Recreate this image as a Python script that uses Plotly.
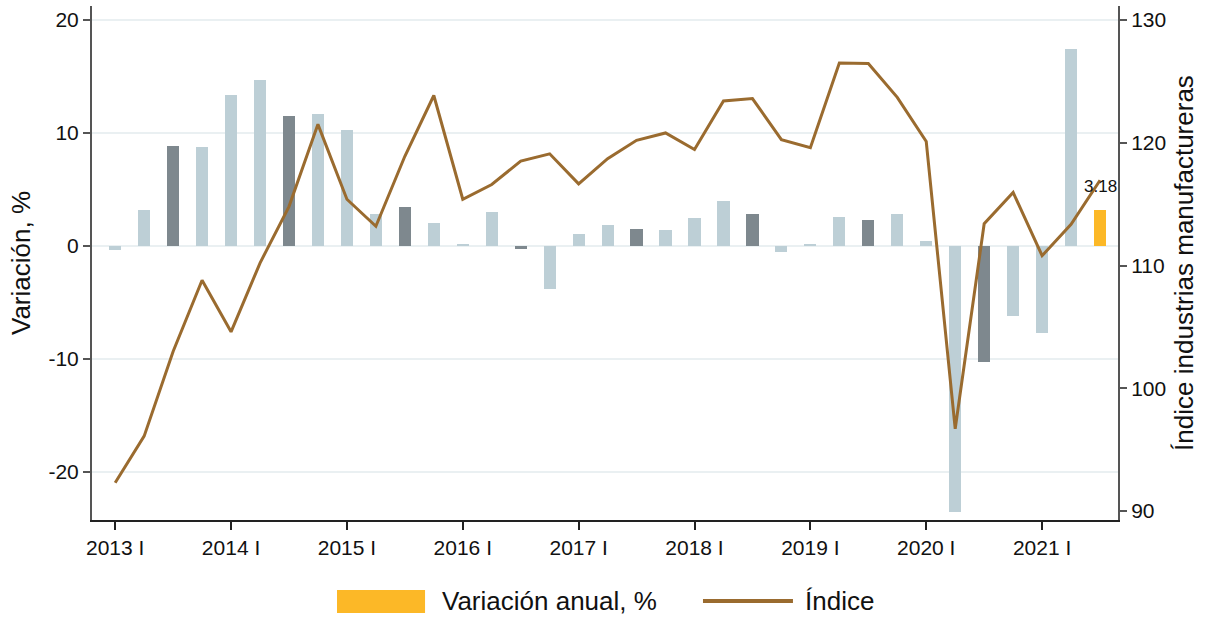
import plotly.graph_objects as go

years = list(range(2013, 2022))
roman = ["I", "II", "III", "IV"]
quarters = [f"{y} {r}" for y in years for r in roman][:35]

variacion = [-0.4, 3.2, 8.85, 8.76, 13.36, 14.66, 11.5, 11.68, 10.27, 2.83,
             3.45, 2.04, 0.1, 3.0, -0.33, -3.8, 1.06, 1.86, 1.5, 1.42,
             2.48, 3.98, 2.83, -0.53, 0.08, 2.57, 2.3, 2.83, 0.44, -23.5,
             -10.3, -6.2, -7.7, 17.43, 3.18]

indice = [92.3, 96.1, 103.0, 108.8, 104.6, 110.2, 114.8, 121.5, 115.4, 113.2,
          118.9, 123.85, 115.4, 116.6, 118.5, 119.1, 116.65, 118.7, 120.2, 120.8,
          119.45, 123.4, 123.6, 120.25, 119.6, 126.5, 126.45, 123.7, 120.1, 96.7,
          113.4, 115.95, 110.8, 113.35, 116.95]

year_ticks = [f"{y} I" for y in years]
left_ticks = [20, 10, 0, -10, -20]
right_ticks = [130, 120, 110, 100, 90]

LIGHT = "#BDCFD6"
DARK = "#7E888E"
YELLOW = "#FCB827"
LINE = "#9A6B2F"
GRID = "#EAF0F2"

bar_colors = []
for i, q in enumerate(quarters):
    if i == len(quarters) - 1:
        bar_colors.append(YELLOW)
    elif q.endswith(" III"):
        bar_colors.append(DARK)
    else:
        bar_colors.append(LIGHT)

FONT = "Liberation Sans, Arial, sans-serif"

fig = go.Figure()
fig.add_trace(go.Bar(x=quarters, y=variacion, marker=dict(color=bar_colors, line=dict(width=0)),
                     width=0.42, name="Variación anual, %", showlegend=False, yaxis="y"))
fig.add_trace(go.Scatter(x=quarters, y=indice, mode="lines", line=dict(color=LINE, width=3),
                         name="Índice", showlegend=False, yaxis="y2"))

fig.add_annotation(x=quarters[-1], y=variacion[-1], text=f"{variacion[-1]:.2f}", showarrow=False,
                   yanchor="bottom", yshift=12, font=dict(size=17, color="#111111", family=FONT),
                   xref="x", yref="y")

# legend (drawn manually)
leg_y = -0.1576
fig.add_shape(type="rect", xref="paper", yref="paper", x0=0.2388, x1=0.3246, y0=-0.181, y1=-0.136,
              fillcolor=YELLOW, line=dict(width=0))
fig.add_annotation(xref="paper", yref="paper", x=0.339, y=leg_y, xanchor="left", yanchor="middle",
                   text="Variación anual, %", showarrow=False, font=dict(size=26, color="#111111", family=FONT))
fig.add_shape(type="line", xref="paper", yref="paper", x0=0.5955, x1=0.6832, y0=leg_y, y1=leg_y,
              line=dict(color=LINE, width=4))
fig.add_annotation(xref="paper", yref="paper", x=0.693, y=leg_y, xanchor="left", yanchor="middle",
                   text="Índice", showarrow=False, font=dict(size=26, color="#111111", family=FONT))

fig.update_layout(
    width=1214, height=620,
    margin=dict(l=92, r=96, t=6, b=100),
    paper_bgcolor="white", plot_bgcolor="white",
    font=dict(family=FONT, size=21, color="#111111"),
    showlegend=False,
    bargap=0,
    xaxis=dict(
        type="category", range=[-0.8, 34.62], automargin=False,
        tickvals=year_ticks, ticktext=year_ticks,
        ticks="outside", ticklen=8, tickcolor="#222222", tickwidth=1.5,
        showline=True, linecolor="#222222", linewidth=1.5,
        showgrid=False, tickfont=dict(size=21),
    ),
    yaxis=dict(
        range=[-24.25, 21.2], tickvals=left_ticks, ticktext=[str(v) for v in left_ticks],
        automargin=False,
        ticks="outside", ticklen=7, tickcolor="#555555", tickwidth=1.5,
        showline=True, linecolor="#555555", linewidth=2,
        showgrid=True, gridcolor=GRID, gridwidth=2, zeroline=False,
        title=dict(text="Variación, %", font=dict(size=26), standoff=10),
        tickfont=dict(size=21),
    ),
    yaxis2=dict(
        overlaying="y", side="right", range=[89.27, 131.14], automargin=False,
        tickvals=right_ticks, ticktext=[str(v) for v in right_ticks],
        ticks="outside", ticklen=7, tickcolor="#555555", tickwidth=1.5,
        showline=True, linecolor="#555555", linewidth=2,
        showgrid=False, zeroline=False,
        title=dict(text="Índice industrias manufactureras", font=dict(size=26), standoff=10),
        tickfont=dict(size=21),
    ),
)

fig.write_html("out.html", config={"displayModeBar": False},
               post_script="document.body.style.margin='0px';")
